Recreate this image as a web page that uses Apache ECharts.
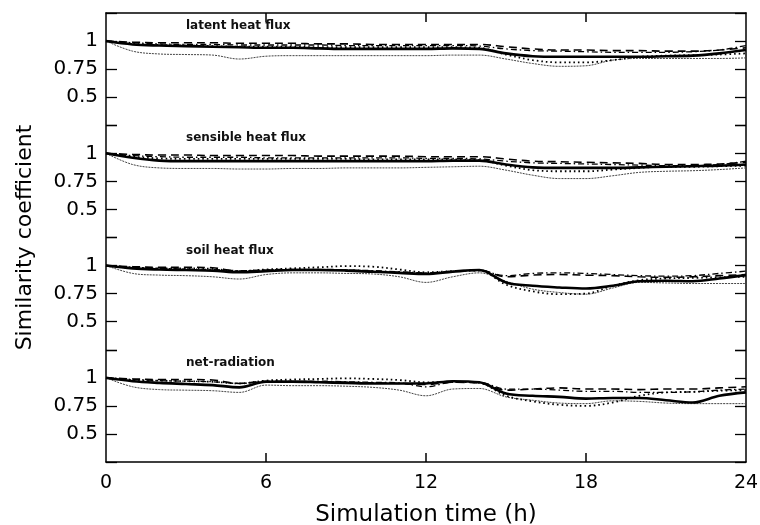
<!DOCTYPE html>
<html><head><meta charset="utf-8">
<script src="https://cdn.jsdelivr.net/npm/echarts@6/dist/echarts.min.js"></script>
<style>html,body{margin:0;padding:0;background:#fff}#c{width:760px;height:525px}</style>
</head><body><div id="c"></div>
<script>
const hours = [0,1,2,3,4,5,6,7,8,9,10,11,12,13,14,15,16,17,18,19,20,21,22,23,24];
const xTicks = [0,6,12,18,24];
const yTickLabels = ['0.5','0.75','1'];
const panelNames = ['latent heat flux','sensible heat flux','soil heat flux','net-radiation'];
const seriesNames = ['solid','dashed','dashdot','dotted','thin'];

const latentSolid   = [1.0,0.97,0.96,0.955,0.95,0.945,0.94,0.94,0.935,0.93,0.93,0.93,0.93,0.935,0.93,0.89,0.865,0.86,0.86,0.86,0.86,0.865,0.87,0.89,0.92];
const latentDashed  = [1.0,0.99,0.985,0.985,0.985,0.98,0.98,0.98,0.975,0.975,0.97,0.97,0.97,0.97,0.97,0.95,0.93,0.92,0.92,0.915,0.915,0.91,0.91,0.92,0.94];
const latentDashDot = [1.0,0.985,0.975,0.97,0.97,0.965,0.965,0.965,0.965,0.96,0.96,0.96,0.96,0.96,0.955,0.93,0.915,0.91,0.905,0.9,0.9,0.9,0.905,0.92,0.96];
const latentDotted  = [1.0,0.975,0.965,0.96,0.955,0.95,0.95,0.95,0.945,0.945,0.945,0.945,0.945,0.945,0.94,0.88,0.83,0.81,0.81,0.83,0.86,0.87,0.875,0.88,0.89];
const latentThin    = [1.0,0.91,0.885,0.88,0.875,0.84,0.865,0.87,0.87,0.87,0.87,0.87,0.87,0.875,0.875,0.84,0.8,0.775,0.78,0.83,0.845,0.845,0.845,0.845,0.85];

const sensibleSolid   = [1.0,0.96,0.935,0.93,0.93,0.93,0.93,0.93,0.93,0.93,0.93,0.93,0.93,0.935,0.935,0.9,0.875,0.87,0.87,0.87,0.875,0.88,0.885,0.89,0.9];
const sensibleDashed  = [1.0,0.99,0.985,0.985,0.98,0.98,0.98,0.98,0.975,0.975,0.975,0.975,0.97,0.97,0.97,0.95,0.93,0.925,0.92,0.915,0.91,0.9,0.9,0.905,0.92];
const sensibleDashDot = [1.0,0.98,0.97,0.965,0.965,0.965,0.96,0.96,0.96,0.96,0.96,0.96,0.955,0.955,0.95,0.93,0.915,0.91,0.905,0.9,0.895,0.89,0.89,0.9,0.93];
const sensibleDotted  = [1.0,0.97,0.955,0.95,0.95,0.95,0.95,0.95,0.95,0.95,0.945,0.945,0.945,0.945,0.94,0.89,0.85,0.84,0.84,0.855,0.87,0.88,0.88,0.885,0.89];
const sensibleThin    = [1.0,0.9,0.87,0.865,0.865,0.86,0.86,0.865,0.865,0.87,0.87,0.87,0.875,0.88,0.885,0.85,0.805,0.775,0.775,0.8,0.83,0.84,0.845,0.855,0.87];

const soilSolid   = [1.0,0.975,0.965,0.96,0.955,0.94,0.95,0.96,0.96,0.955,0.945,0.935,0.925,0.945,0.96,0.85,0.82,0.805,0.795,0.82,0.86,0.865,0.86,0.885,0.915];
const soilDashed  = [1.0,0.99,0.985,0.985,0.98,0.95,0.96,0.965,0.965,0.96,0.95,0.94,0.93,0.95,0.96,0.9,0.915,0.92,0.915,0.91,0.9,0.895,0.9,0.91,0.92];
const soilDashDot = [1.0,0.985,0.975,0.97,0.965,0.955,0.96,0.965,0.965,0.96,0.955,0.945,0.935,0.95,0.955,0.91,0.93,0.935,0.93,0.92,0.91,0.905,0.91,0.93,0.95];
const soilDotted  = [1.0,0.98,0.975,0.975,0.97,0.95,0.965,0.975,0.985,0.995,0.99,0.965,0.94,0.95,0.955,0.83,0.77,0.745,0.75,0.82,0.87,0.885,0.89,0.895,0.9];
const soilThin    = [1.0,0.93,0.915,0.91,0.9,0.88,0.92,0.935,0.935,0.93,0.925,0.9,0.85,0.9,0.935,0.86,0.79,0.76,0.745,0.8,0.85,0.845,0.84,0.84,0.84];

const netSolid   = [1.0,0.97,0.955,0.945,0.935,0.915,0.965,0.965,0.96,0.955,0.95,0.95,0.95,0.97,0.96,0.86,0.84,0.83,0.815,0.82,0.82,0.8,0.78,0.84,0.87];
const netDashed  = [1.0,0.99,0.985,0.985,0.98,0.95,0.97,0.97,0.965,0.96,0.955,0.95,0.94,0.96,0.955,0.89,0.9,0.91,0.9,0.9,0.895,0.9,0.9,0.91,0.92];
const netDashDot = [1.0,0.985,0.975,0.97,0.965,0.95,0.965,0.97,0.97,0.965,0.96,0.955,0.92,0.96,0.96,0.9,0.9,0.89,0.88,0.88,0.87,0.87,0.875,0.89,0.9];
const netDotted  = [1.0,0.98,0.975,0.97,0.965,0.95,0.975,0.985,0.99,0.995,0.99,0.98,0.96,0.965,0.955,0.84,0.79,0.76,0.75,0.78,0.84,0.87,0.875,0.885,0.89];
const netThin    = [1.0,0.92,0.895,0.89,0.885,0.87,0.935,0.93,0.93,0.925,0.915,0.89,0.84,0.9,0.905,0.83,0.8,0.775,0.77,0.795,0.79,0.775,0.77,0.77,0.77];

const panels = [
  [latentSolid, latentDashed, latentDashDot, latentDotted, latentThin],
  [sensibleSolid, sensibleDashed, sensibleDashDot, sensibleDotted, sensibleThin],
  [soilSolid, soilDashed, soilDashDot, soilDotted, soilThin],
  [netSolid, netDashed, netDashDot, netDotted, netThin]
];

const FONT = 'DejaVu Sans';
const L = 106, R = 14, T = 13, B = 63;
const plotH = 525 - T - B;
const ph = plotH / 4;
const TICK = 9;
const styles = [
  {width: 2.6, type: 'solid', color: '#000'},
  {width: 1.6, type: [8, 5], color: '#000'},
  {width: 1.3, type: [6, 3, 1.5, 3], color: '#000'},
  {width: 1.8, type: [1.6, 3], color: '#000'},
  {width: 1.0, type: [2, 1], color: '#444'}
];
const frameLine = () => ({show: true, onZero: false, lineStyle: {color: '#000', width: 1.5}});
const noGridBounds = {show: false, containLabel: false, outerBoundsMode: 'none'};

const grid = [Object.assign({left: L, right: R, top: T, bottom: B}, noGridBounds)];
const xAxis = [
  {gridIndex: 0, type: 'value', min: 0, max: 24, interval: 6, position: 'bottom',
   axisLine: frameLine(), axisTick: {show: false},
   axisLabel: {fontFamily: FONT, fontSize: 19, color: '#000', margin: 12,
     formatter: v => xTicks.includes(v) ? String(v) : ''},
   splitLine: {show: false},
   name: 'Simulation time (h)', nameLocation: 'middle', nameGap: 42,
   nameTextStyle: {fontFamily: FONT, fontSize: 23, color: '#000'}},
  {gridIndex: 0, type: 'value', min: 0, max: 24, interval: 6, position: 'top',
   axisLine: frameLine(), axisTick: {show: false},
   axisLabel: {show: false}, splitLine: {show: false}}
];
const yAxis = [
  {gridIndex: 0, type: 'value', min: 0, max: 1, position: 'left',
   axisLine: frameLine(),
   axisTick: {show: false}, axisLabel: {show: false}, splitLine: {show: false},
   name: 'Similarity coefficient', nameLocation: 'middle', nameGap: 70, nameRotate: 90,
   nameTextStyle: {fontFamily: FONT, fontSize: 22, color: '#000'}},
  {gridIndex: 0, type: 'value', min: 0, max: 1, position: 'right',
   axisLine: frameLine(),
   axisTick: {show: false}, axisLabel: {show: false}, splitLine: {show: false}}
];
const series = [];
const title = [];
panels.forEach((pd, i) => {
  const gi = i + 1;
  grid.push(Object.assign({left: L, right: R, top: T + i * ph, height: ph}, noGridBounds));
  xAxis.push({gridIndex: gi, type: 'value', min: 0, max: 24, show: false});
  yAxis.push({gridIndex: gi, type: 'value', min: 0.25, max: 1.25, interval: 0.25, position: 'left',
    axisLine: {show: false, onZero: false},
    axisTick: {show: true, inside: true, length: 11, lineStyle: {color: '#000', width: 1.3}},
    axisLabel: {fontFamily: FONT, fontSize: 20, color: '#000', margin: 8,
      formatter: v => { const s = String(v); return yTickLabels.includes(s) ? s : ''; }},
    splitLine: {show: false}});
  yAxis.push({gridIndex: gi, type: 'value', min: 0.25, max: 1.25, interval: 0.25, position: 'right',
    axisLine: {show: false, onZero: false},
    axisTick: {show: true, inside: true, length: 11, lineStyle: {color: '#000', width: 1.3}},
    axisLabel: {show: false}, splitLine: {show: false}});
  pd.forEach((vals, k) => {
    series.push({
      name: panelNames[i] + ' ' + seriesNames[k], type: 'line',
      xAxisIndex: 2 + i, yAxisIndex: 2 + i * 2,
      data: hours.map((h, j) => [h, vals[j]]),
      smooth: 0.35, showSymbol: false, symbol: 'none', silent: true,
      lineStyle: styles[k], z: 10 - k
    });
  });
  title.push({text: panelNames[i], left: 181, top: T + i * ph + 2,
    textStyle: {fontFamily: FONT, fontSize: 12, fontWeight: 'bold', color: '#111'}});
});
// inward x-axis tick marks on top and bottom edges: thin strips with bar-shaped symbols at the tick values
const innerTicks = xTicks.slice(1, -1);
[T, T + plotH - TICK].forEach((top, s) => {
  const gi = grid.length;
  grid.push(Object.assign({left: L, right: R, top: top, height: TICK}, noGridBounds));
  xAxis.push({gridIndex: gi, type: 'value', min: 0, max: 24, show: false});
  yAxis.push({gridIndex: gi, type: 'value', min: 0, max: 1, show: false});
  series.push({
    name: 'x ticks ' + s, type: 'scatter', xAxisIndex: xAxis.length - 1, yAxisIndex: yAxis.length - 1,
    data: innerTicks.map(v => [v, 0.5]), silent: true,
    symbol: 'rect', symbolSize: [1.5, TICK], itemStyle: {color: '#000', opacity: 1}, z: 20
  });
});

const chart = echarts.init(document.getElementById('c'), null, {renderer: 'canvas'});
chart.setOption({animation: false, backgroundColor: '#fff', title, grid, xAxis, yAxis, series});
</script></body></html>
